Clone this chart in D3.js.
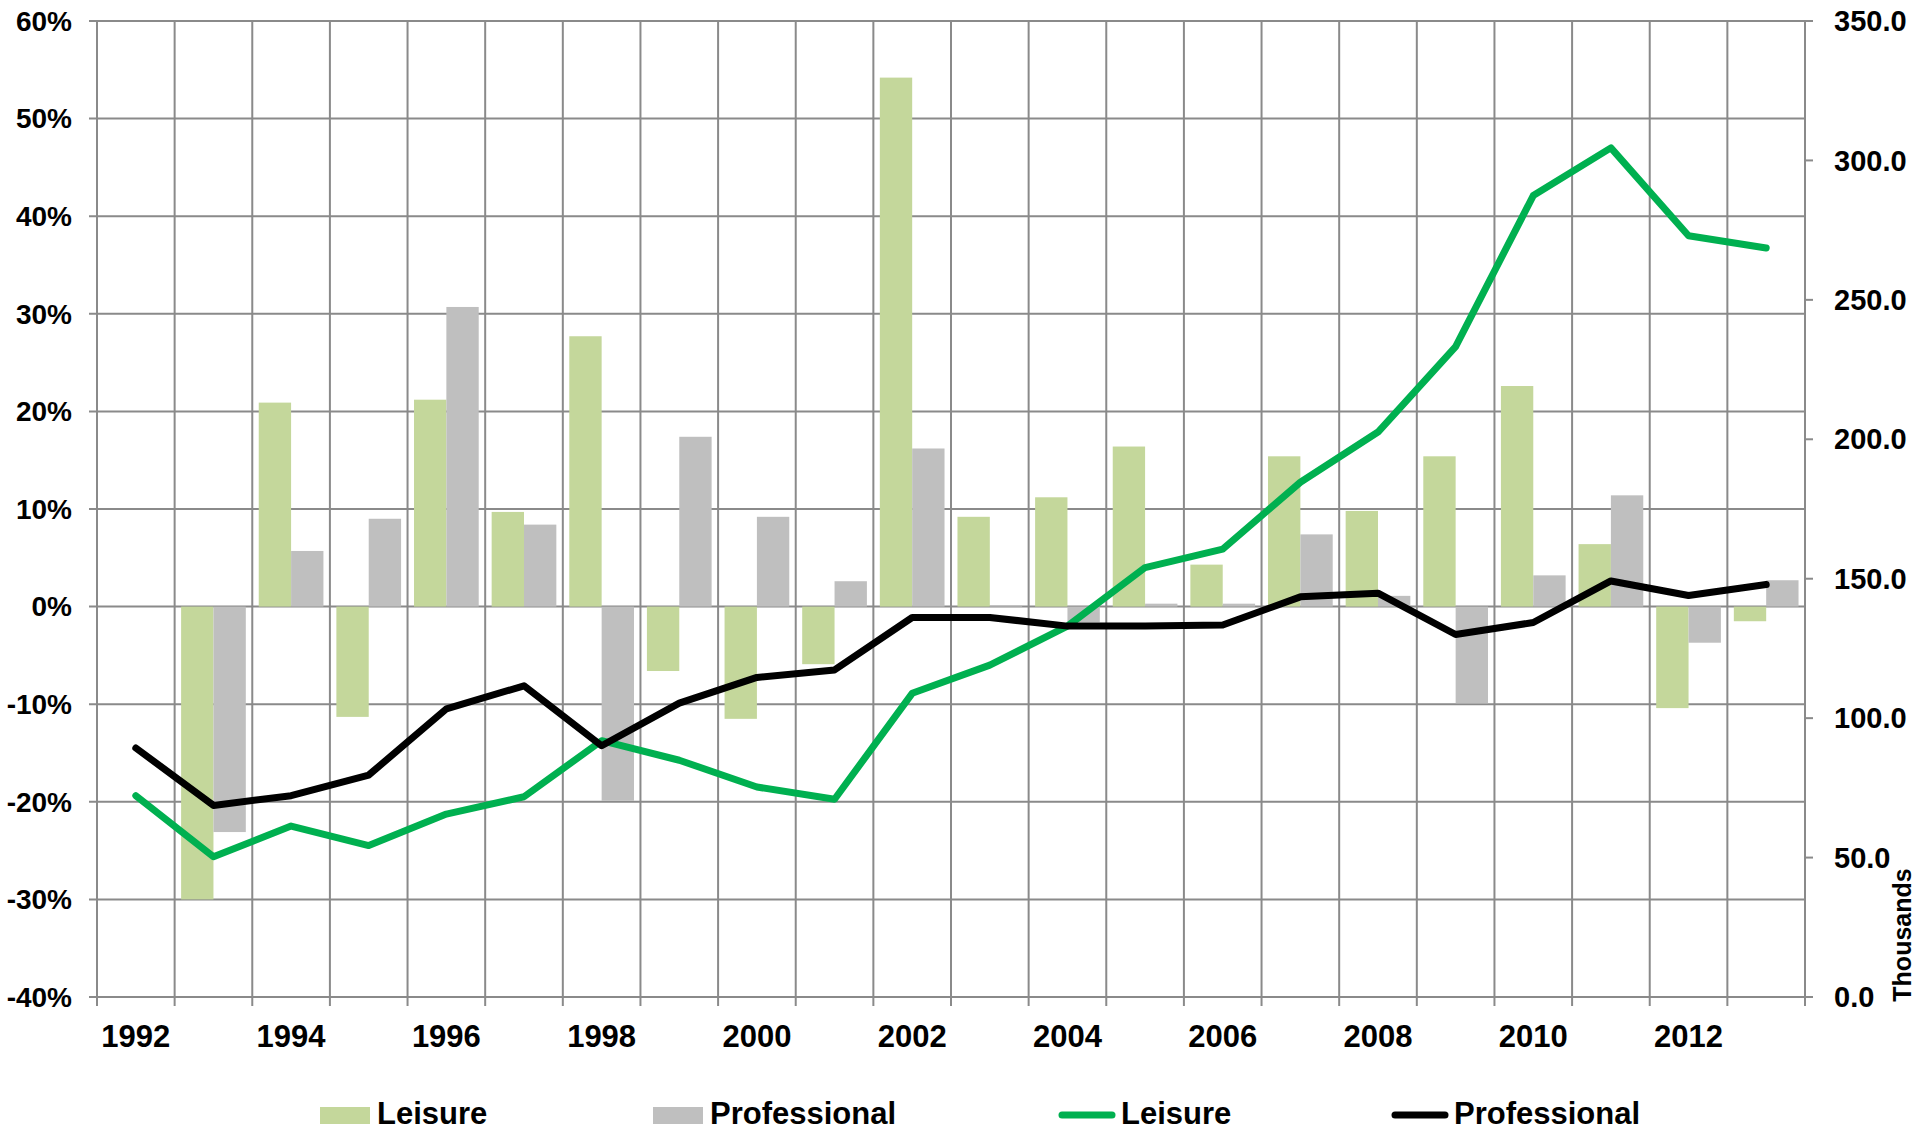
<!DOCTYPE html>
<html>
<head>
<meta charset="utf-8">
<script src="https://cdn.jsdelivr.net/npm/d3@7"></script>
<style>
  body { margin: 0; background: #fff; }
  text { font-family: "Liberation Sans", Arial, sans-serif; font-weight: bold; fill: #000; }
</style>
</head>
<body>
<div id="chart"></div>
<script>
var years = ["1992","1993","1994","1995","1996","1997","1998","1999","2000","2001","2002",
  "2003","2004","2005","2006","2007","2008","2009","2010","2011","2012","2013"];

// year-on-year growth (%)
var leisureGrowth = [null, -30, 20.9, -11.3, 21.2, 9.7, 27.7, -6.6, -11.5, -5.9, 54.2,
  9.2, 11.2, 16.4, 4.3, 15.4, 9.8, 15.4, 22.6, 6.4, -10.4, -1.5];
var professionalGrowth = [null, -23.1, 5.7, 9.0, 30.7, 8.4, -19.9, 17.4, 9.2, 2.6, 16.2,
  0.1, -1.6, 0.3, 0.3, 7.4, 1.1, -9.9, 3.2, 11.4, -3.7, 2.7];

// volumes (thousands)
var leisureTotal = [72.2, 50.3, 61.3, 54.3, 65.6, 71.8, 91.9, 84.9, 75.3, 70.9, 108.9,
  119, 133, 154, 160.6, 184.6, 202.6, 233.2, 287.4, 304.5, 273, 268.6];
var professionalTotal = [89.3, 68.7, 72.2, 79.6, 103.3, 111.6, 90.1, 105.4, 114.6, 117.3, 136.1,
  136.1, 133, 133, 133.4, 143.5, 144.8, 130, 134.3, 149.2, 144, 147.9];

var leftTicks = [-40, -30, -20, -10, 0, 10, 20, 30, 40, 50, 60];
var rightTicks = [0, 50, 100, 150, 200, 250, 300, 350];
var yearLabels = ["1992","1994","1996","1998","2000","2002","2004","2006","2008","2010","2012"];

var W = 1915, H = 1131;
var plotLeft = 97, plotRight = 1805, plotTop = 21, plotBottom = 997;
var gridColor = "#8a8a8a";

var svg = d3.select("#chart").append("svg").attr("width", W).attr("height", H);

var x = d3.scaleBand().domain(years).range([plotLeft, plotRight]).paddingInner(0).paddingOuter(0);
var xInner = d3.scaleBand().domain(["Leisure", "Professional"])
  .range([0, x.bandwidth()]).paddingInner(0).paddingOuter(0.2);
var yL = d3.scaleLinear().domain([-40, 60]).range([plotBottom, plotTop]);
var yR = d3.scaleLinear().domain([0, 350]).range([plotBottom, plotTop]);

// horizontal grid
svg.append("g").selectAll("line").data(leftTicks).enter().append("line")
  .attr("x1", plotLeft - 8).attr("x2", plotRight)
  .attr("y1", d => yL(d)).attr("y2", d => yL(d))
  .attr("stroke", gridColor).attr("stroke-width", 2);

// vertical grid at category boundaries
var bounds = years.map(d => x(d)).concat([plotRight]);
svg.append("g").selectAll("line").data(bounds).enter().append("line")
  .attr("x1", d => d).attr("x2", d => d)
  .attr("y1", plotTop).attr("y2", plotBottom + 9)
  .attr("stroke", gridColor).attr("stroke-width", 2);

// right axis ticks
svg.append("g").selectAll("line").data(rightTicks).enter().append("line")
  .attr("x1", plotRight).attr("x2", plotRight + 8)
  .attr("y1", d => yR(d)).attr("y2", d => yR(d))
  .attr("stroke", gridColor).attr("stroke-width", 2);

// bars
var bars = [];
years.forEach(function (yr, i) {
  if (leisureGrowth[i] != null) bars.push({ year: yr, s: "Leisure", v: leisureGrowth[i] });
  if (professionalGrowth[i] != null) bars.push({ year: yr, s: "Professional", v: professionalGrowth[i] });
});
var barColor = { Leisure: "#c4d79b", Professional: "#bfbfbf" };
svg.append("g").selectAll("rect").data(bars).enter().append("rect")
  .attr("x", d => x(d.year) + xInner(d.s))
  .attr("width", xInner.bandwidth())
  .attr("y", d => yL(Math.max(0, d.v)))
  .attr("height", d => Math.abs(yL(d.v) - yL(0)))
  .attr("fill", d => barColor[d.s]);

// lines
var line = d3.line().x((d, i) => x(years[i]) + x.bandwidth() / 2).y(d => yR(d));
svg.append("path").datum(leisureTotal).attr("d", line)
  .attr("fill", "none").attr("stroke", "#00b050").attr("stroke-width", 7)
  .attr("stroke-linecap", "round").attr("stroke-linejoin", "round");
svg.append("path").datum(professionalTotal).attr("d", line)
  .attr("fill", "none").attr("stroke", "#000").attr("stroke-width", 7)
  .attr("stroke-linecap", "round").attr("stroke-linejoin", "round");

// left labels
svg.append("g").selectAll("text").data(leftTicks).enter().append("text")
  .attr("x", plotLeft - 25).attr("y", d => yL(d)).attr("dy", "0.35em")
  .attr("text-anchor", "end").style("font-size", "28px")
  .text(d => d + "%");

// right labels
svg.append("g").selectAll("text").data(rightTicks).enter().append("text")
  .attr("x", plotRight + 29).attr("y", d => yR(d)).attr("dy", "0.35em")
  .attr("text-anchor", "start").style("font-size", "29px")
  .text(d => d3.format(".1f")(d));

// year labels
svg.append("g").selectAll("text").data(yearLabels).enter().append("text")
  .attr("x", d => x(d) + x.bandwidth() / 2).attr("y", 1047)
  .attr("text-anchor", "middle").style("font-size", "31px")
  .text(d => d);

svg.append("text")
  .attr("transform", "translate(1911,935) rotate(-90)")
  .attr("text-anchor", "middle").style("font-size", "25px")
  .text("Thousands");

// legend
var legendY = 1113;
var legend = [
  { type: "bar", color: "#c4d79b", label: "Leisure", x: 320 },
  { type: "bar", color: "#bfbfbf", label: "Professional", x: 653 },
  { type: "line", color: "#00b050", label: "Leisure", x: 1059 },
  { type: "line", color: "#000", label: "Professional", x: 1392 }
];
legend.forEach(function (d) {
  if (d.type === "bar") {
    svg.append("rect").attr("x", d.x).attr("y", legendY - 6).attr("width", 50).attr("height", 17)
      .attr("fill", d.color);
    svg.append("text").attr("x", d.x + 57).attr("y", legendY).attr("dy", "0.35em")
      .style("font-size", "31px").text(d.label);
  } else {
    svg.append("line").attr("x1", d.x + 3).attr("x2", d.x + 53)
      .attr("y1", legendY + 2).attr("y2", legendY + 2)
      .attr("stroke", d.color).attr("stroke-width", 7).attr("stroke-linecap", "round");
    svg.append("text").attr("x", d.x + 62).attr("y", legendY).attr("dy", "0.35em")
      .style("font-size", "31px").text(d.label);
  }
});
</script>
</body>
</html>
